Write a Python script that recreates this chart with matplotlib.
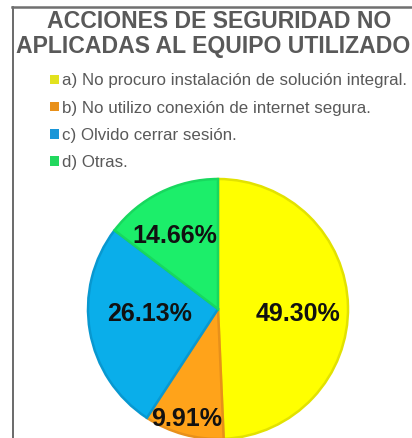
import matplotlib
matplotlib.use('agg')
import matplotlib.pyplot as plt
from matplotlib.lines import Line2D
from matplotlib.patches import Patch
import numpy as np

plt.rcParams['font.family'] = ['Liberation Sans', 'DejaVu Sans']

title_lines = ['ACCIONES DE SEGURIDAD NO', 'APLICADAS AL EQUIPO UTILIZADO']
categories = ['a) No procuro instalación de solución integral.',
              'b) No utilizo conexión de internet segura.',
              'c) Olvido cerrar sesión.',
              'd) Otras.']
values = [49.30, 9.91, 26.13, 14.66]
colors = ['#FFFF00', '#FFA31A', '#0AAEEA', '#1CEE6A']
edges = ['#E2E200', '#E8901A', '#0898D0', '#18D85E']
legend_colors = ['#E2E21E', '#E8901A', '#1896D8', '#22D85E']
# label placement: radius fraction and angle shift (deg) from wedge middle
label_dist = [0.62, 0.88, 0.53, 0.65]
label_shift = [-4.9, -0.4, -5.6, 4.2]

W, H = 412, 438
fig = plt.figure(figsize=(W / 100, H / 100), dpi=100)

# pie: centre (218, 309) px, radius 130 px
cx, cy, r = 218, 309, 130
ax = fig.add_axes([(cx - r) / W, (H - cy - r) / H, 2 * r / W, 2 * r / H])
wedges, _ = ax.pie(values, colors=colors, startangle=90, counterclock=False,
                   wedgeprops=dict(linewidth=1.8))
for w, ec in zip(wedges, edges):
    w.set_edgecolor(ec)
for w, v, d, s in zip(wedges, values, label_dist, label_shift):
    ang = np.deg2rad((w.theta1 + w.theta2) / 2 + s)
    ax.text(d * np.cos(ang), d * np.sin(ang), '{:.2f}%'.format(v),
            ha='center', va='center', fontsize=18, fontweight='bold', color='#111111')
ax.set_xlim(-1, 1)
ax.set_ylim(-1, 1)
ax.set_aspect('equal')
ax.axis('off')

# frame lines
fig.add_artist(Line2D([12.5 / W, 12.5 / W], [0, 1 - 7 / H], color='#505050', lw=1.2))
fig.add_artist(Line2D([12 / W, 1], [1 - 7 / H, 1 - 7 / H], color='#707070', lw=1.8))

# title
fig.text(219 / W, 1 - 21 / H, title_lines[0], ha='center', va='center',
         fontsize=16.6, fontweight='bold', color='#595959')
fig.text(213 / W, 1 - 46 / H, title_lines[1], ha='center', va='center',
         fontsize=16.6, fontweight='bold', color='#595959')

handles = [Patch(facecolor=c, edgecolor='none') for c in legend_colors]
fig.legend(handles, categories, loc='upper left', bbox_to_anchor=(42 / W, 1 - 65 / H),
           frameon=False, fontsize=12.2, labelcolor='#595959', handlelength=0.5,
           handleheight=0.5, handletextpad=0.2, labelspacing=0.72, borderpad=0)

fig.savefig('out.png', dpi=100)
